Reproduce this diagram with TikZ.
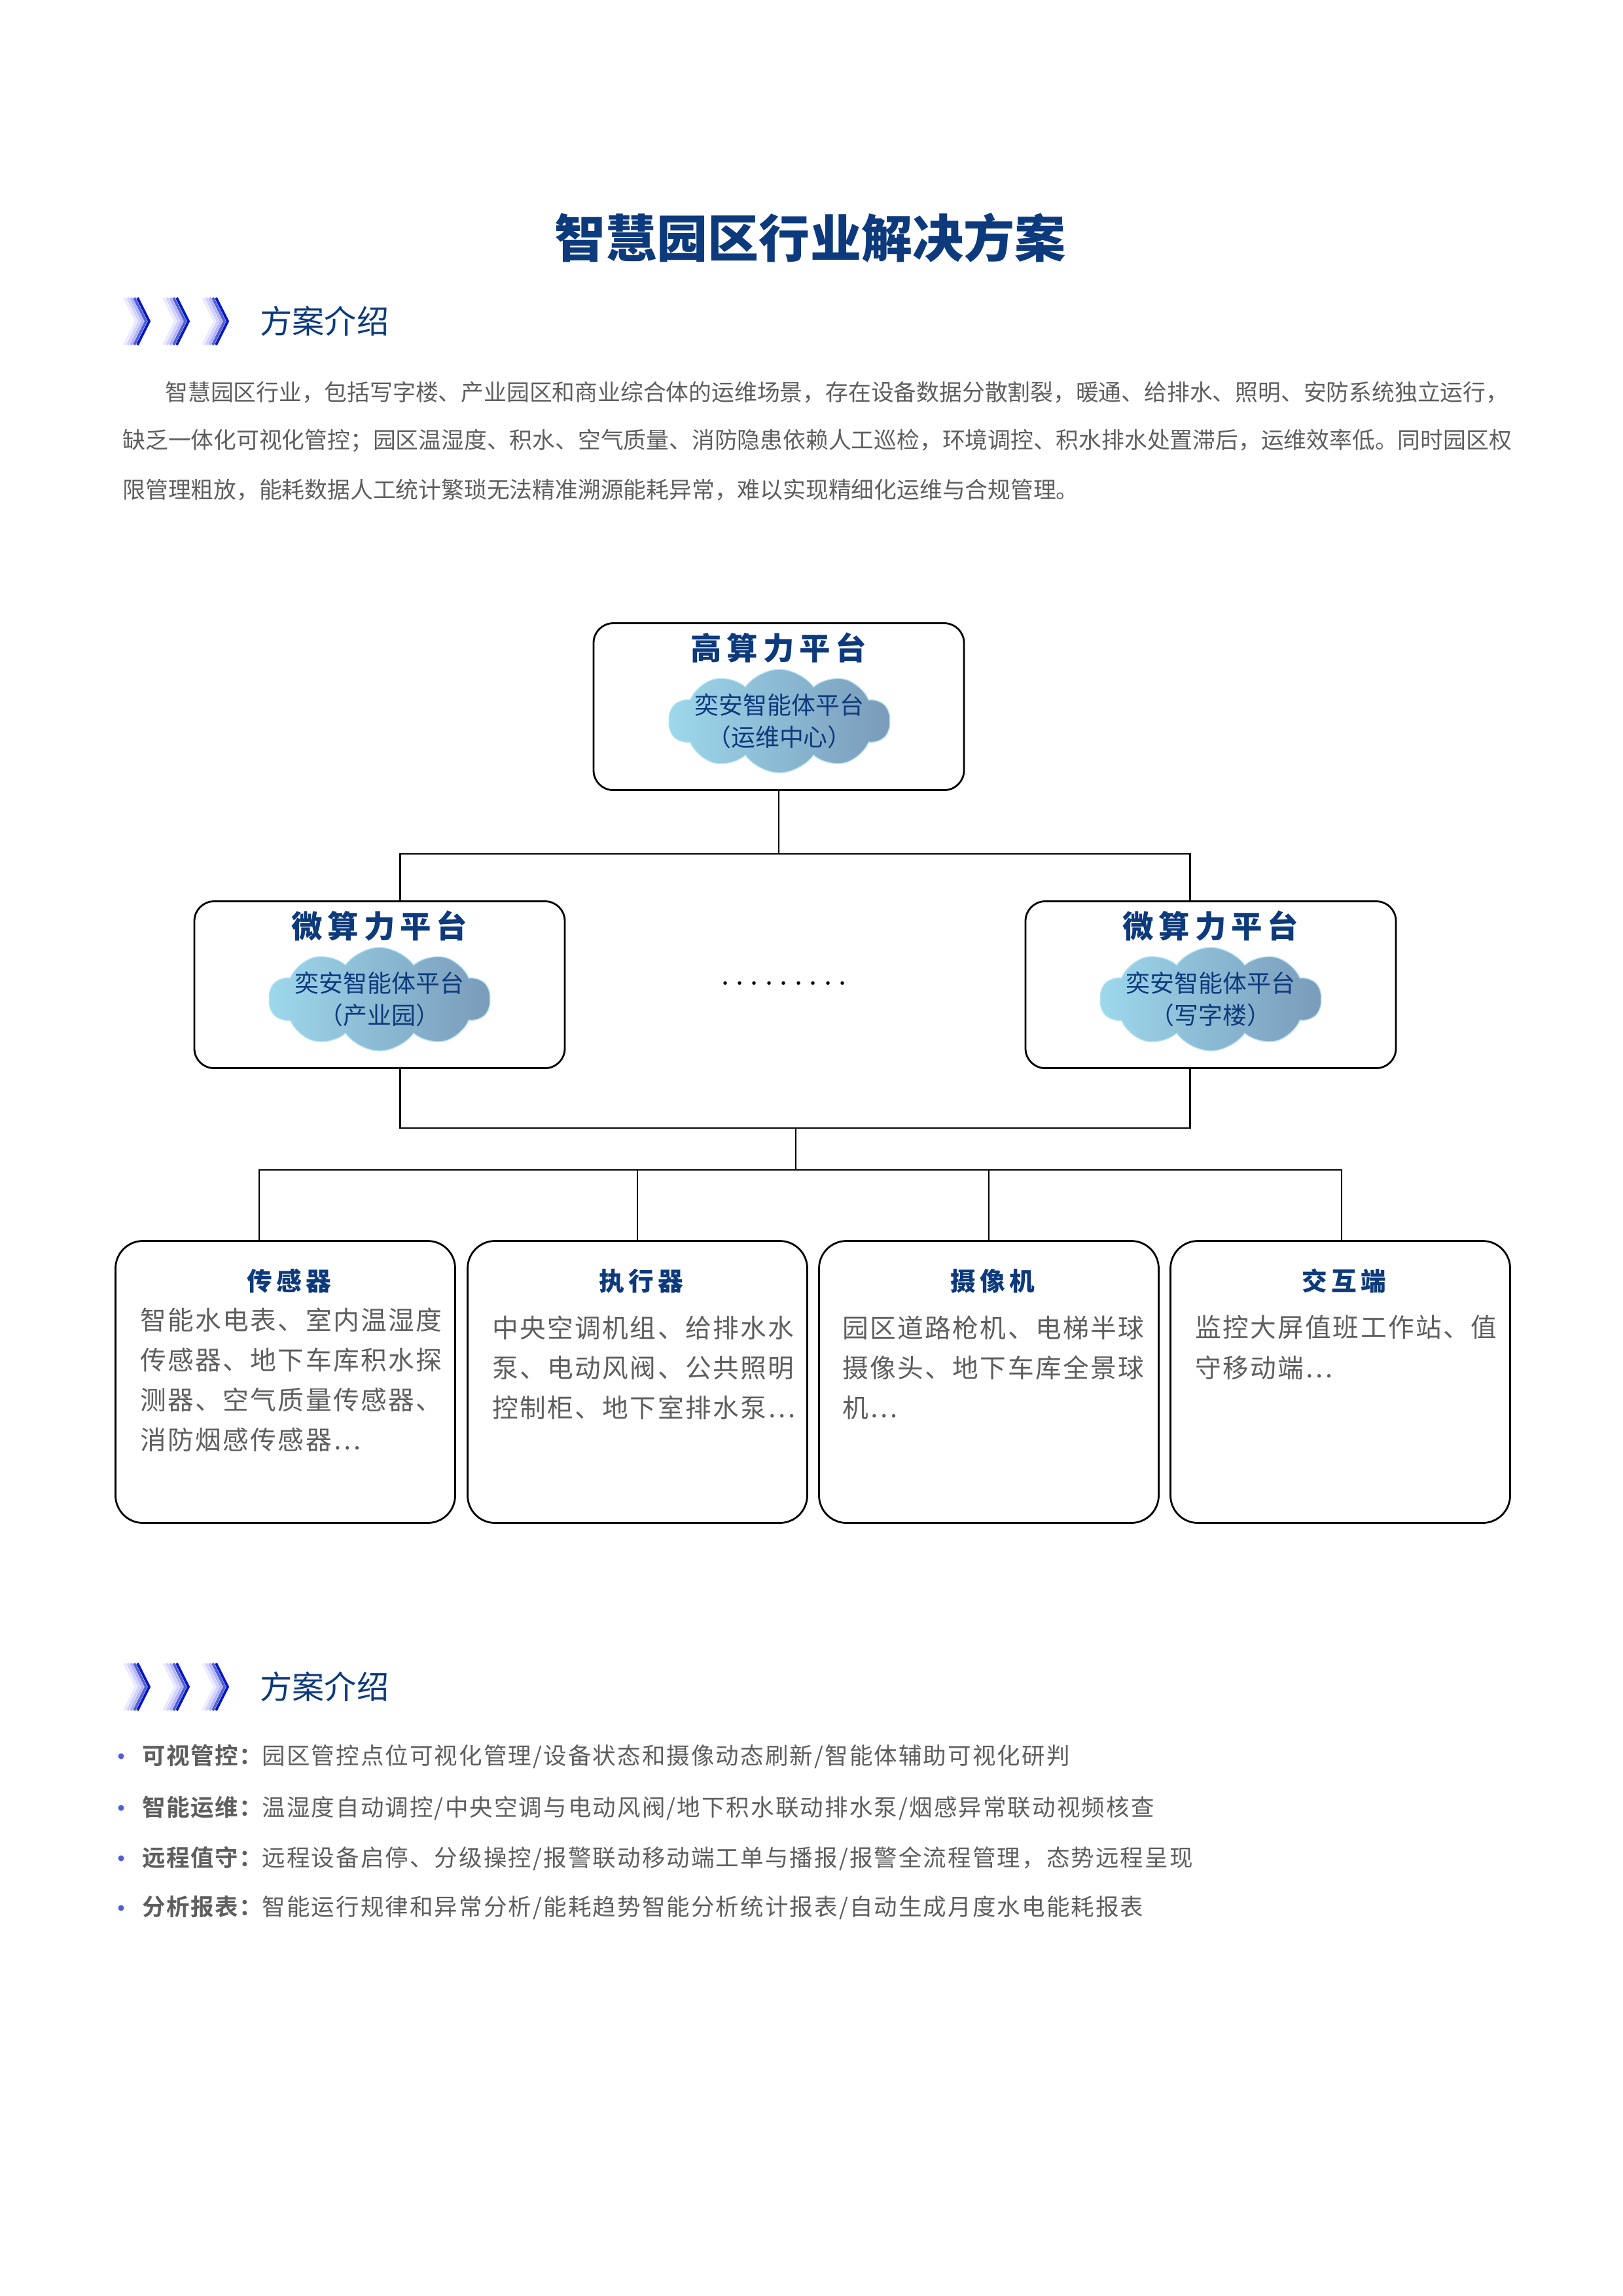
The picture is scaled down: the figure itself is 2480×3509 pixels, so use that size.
\documentclass[tikz,border=0pt]{standalone}
\usepackage{fontspec}
\newfontfamily\cjk{Noto Sans CJK SC}
\newfontfamily\cjkb{Noto Sans CJK SC Black}
\newfontfamily\cjkls{Noto Sans CJK SC}[LetterSpace=6]
\newfontfamily\cjklsb{Noto Sans CJK SC Bold}[LetterSpace=4]
\usetikzlibrary{shapes.symbols}
\definecolor{navy}{HTML}{0D3A7C}
\definecolor{txtgray}{HTML}{5E5E5E}
\definecolor{cloudA}{HTML}{9DD8EC}
\definecolor{cloudB}{HTML}{7A9BBA}
\tikzset{
    box/.style={draw, line width=0.8pt, rounded corners=3mm, minimum width=56.6mm, minimum height=25.5mm},
    leaf/.style={draw, line width=0.8pt, rounded corners=4.2mm, minimum width=51.9mm, minimum height=43.1mm},
    link/.style={line width=0.7pt},
    boxtitle/.style={text=navy, font=\cjkb\fontsize{13.5}{16}\selectfont},
    leaftitle/.style={text=navy, font=\cjkb\fontsize{11}{13}\selectfont},
    cloudy/.style={cloud, cloud puffs=10, cloud puff arc=110, aspect=2.1, inner sep=0pt, minimum width=33.8mm, minimum height=15.8mm,
      left color=cloudA, right color=cloudB, draw=cloudA!80},
    cloudtext/.style={text=navy, align=center, font=\cjk\fontsize{10.5}{14}\selectfont},
    body/.style={anchor=north west, align=left, text=txtgray, font=\cjkls\fontsize{11.3}{17.4}\selectfont},
    para/.style={anchor=west, text=txtgray, font=\cjk\fontsize{9.9}{12}\selectfont},
    bullet/.style={anchor=west, text=txtgray, font=\cjkls\fontsize{10.1}{12}\selectfont},
    header/.style={anchor=west, text=navy, font=\cjk\fontsize{14}{16}\selectfont},
}
\newcommand\chevrons[2]{% x y
  \foreach \i in {0,1,2}{
    \foreach \k/\c in {0/blue!8,5/blue!18,10/blue!30,15/blue!45!navy!70,20/blue!60!navy}{
      \draw[line width=1.1pt, \c] (#1+\i*60+\k,#2-36) -- (#1+\i*60+\k+18,#2) -- (#1+\i*60+\k,#2+36);
    }
  }
}
\begin{document}
\begin{tikzpicture}[x=0.1mm, y=-0.1mm]
  \useasboundingbox (0,0) rectangle (2480,3509);
  % title and intro
  \node[text=navy, font=\cjkb\fontsize{22.2}{26}\selectfont] (title) at (1238,363) {智慧园区行业解决方案};
  \chevrons{190}{491}
  \node[header] (head1) at (385,491) {方案介绍};
  \node[para] (p1) at (240,600) {智慧园区行业，包括写字楼、产业园区和商业综合体的运维场景，存在设备数据分散割裂，暖通、给排水、照明、安防系统独立运行，};
  \node[para] (p2) at (175,674) {缺乏一体化可视化管控；园区温湿度、积水、空气质量、消防隐患依赖人工巡检，环境调控、积水排水处置滞后，运维效率低。同时园区权};
  \node[para] (p3) at (175,749) {限管理粗放，能耗数据人工统计繁琐无法精准溯源能耗异常，难以实现精细化运维与合规管理。};

  % platforms
  \node[box] (top) at (1190,1080) {};
  \node[boxtitle] at (1190,990) {高\,算\,力\,平\,台};
  \node[cloudy] (ctop) at (1191,1102) {};
  \node[cloudtext] at (ctop) {奕安智能体平台\\（运维中心）};
  \node[box] (ml) at (580,1505) {};
  \node[boxtitle] at (580,1415) {微\,算\,力\,平\,台};
  \node[cloudy] (cml) at (580,1527) {};
  \node[cloudtext] at (cml) {奕安智能体平台\\（产业园）};
  \node[box] (mr) at (1850,1505) {};
  \node[boxtitle] at (1850,1415) {微\,算\,力\,平\,台};
  \node[cloudy] (cmr) at (1850,1527) {};
  \node[cloudtext] at (cmr) {奕安智能体平台\\（写字楼）};
  \node[font=\bfseries\Large] (dots) at (1198,1504) {$\cdots\cdots\cdots$};

  % devices
  \node[leaf] (b1) at (436,2112) {};
  \node[leaf] (b2) at (974,2112) {};
  \node[leaf] (b3) at (1511,2112) {};
  \node[leaf] (b4) at (2048,2112) {};
  \node[leaftitle] at (442,1958) {传\,感\,器};
  \node[leaftitle] at (980,1958) {执\,行\,器};
  \node[leaftitle] at (1517,1958) {摄\,像\,机};
  \node[leaftitle] at (2054,1958) {交\,互\,端};
  \node[body] (t1) at (202,1986) {智能水电表、室内温湿度\\传感器、地下车库积水探\\测器、空气质量传感器、\\消防烟感传感器…};
  \node[body] (t2) at (740,1998) {中央空调机组、给排水水\\泵、电动风阀、公共照明\\控制柜、地下室排水泵…};
  \node[body] (t3) at (1275,1998) {园区道路枪机、电梯半球\\摄像头、地下车库全景球\\机…};
  \node[body] (t4) at (1814,1998) {监控大屏值班工作站、值\\守移动端…};

  % connectors
  \coordinate (j1) at (1190,1305);
  \coordinate (j2) at (1216,1724);
  \coordinate (j3) at (1216,1788);
  \coordinate (e1) at (396,1897);
  \coordinate (e2) at (974,1897);
  \coordinate (e3) at (1511,1897);
  \coordinate (e4) at (2050,1897);
  \draw[link] (top.south) -- (j1);
  \draw[link] ([xshift=9]ml.north) |- (j1) -| ([xshift=-9]mr.north);
  \draw[link] ([xshift=9]ml.south) |- (j2) -| ([xshift=-9]mr.south);
  \draw[link] (j2) -- (j3);
  \draw[link] (e1) |- (j3) -| (e4);
  \draw[link] (e2) -- (e2 |- j3);
  \draw[link] (e3) -- (e3 |- j3);

  % summary
  \chevrons{190}{2578}
  \node[header] (head2) at (385,2578) {方案介绍};
  \foreach \y in {2684,2763,2840,2916}
    \fill[blue!60!navy!70] (185,\y) circle (4.5);
  \node[bullet] (item1) at (205,2684) {{\cjklsb 可视管控：}园区管控点位可视化管理/设备状态和摄像动态刷新/智能体辅助可视化研判};
  \node[bullet] (item2) at (205,2763) {{\cjklsb 智能运维：}温湿度自动调控/中央空调与电动风阀/地下积水联动排水泵/烟感异常联动视频核查};
  \node[bullet] (item3) at (205,2840) {{\cjklsb 远程值守：}远程设备启停、分级操控/报警联动移动端工单与播报/报警全流程管理，态势远程呈现};
  \node[bullet] (item4) at (205,2916) {{\cjklsb 分析报表：}智能运行规律和异常分析/能耗趋势智能分析统计报表/自动生成月度水电能耗报表};
\end{tikzpicture}
\end{document}
